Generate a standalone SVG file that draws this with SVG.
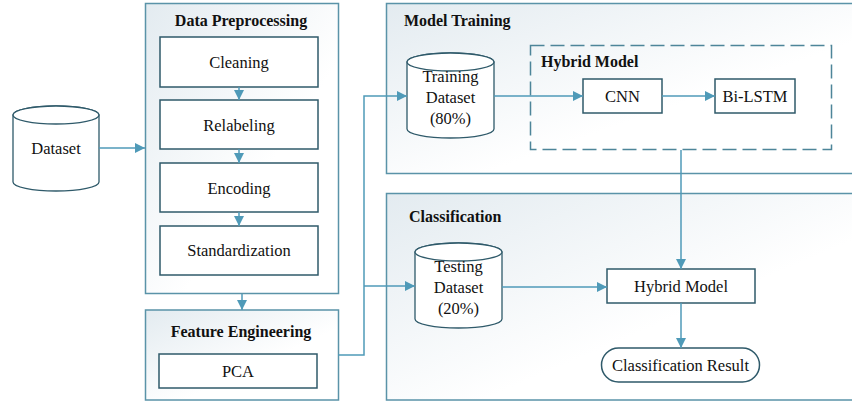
<svg xmlns="http://www.w3.org/2000/svg" width="852" height="403" viewBox="0 0 852 403" font-family="Liberation Serif, DejaVu Serif, Times New Roman, serif">
<defs>
<linearGradient id="grp" x1="0" y1="0" x2="1" y2="1">
<stop offset="0" stop-color="#e3ebf0"/>
<stop offset="0.6" stop-color="#ffffff"/>
<stop offset="1" stop-color="#ffffff"/>
</linearGradient>
<marker id="ah" viewBox="0 0 10 10" refX="10" refY="5" markerWidth="10" markerHeight="10" markerUnits="userSpaceOnUse" orient="auto">
<path d="M0,0 L10,5 L0,10 Z" fill="#4f9ab8"/>
</marker>
<style>
.grp{fill:url(#grp);stroke:#5a93a8;stroke-width:1.5}
.box{fill:#fff;stroke:#2f5a6a;stroke-width:1.5}
.cyl{fill:#fff;stroke:#2f5a6a;stroke-width:1.3}
.dash{fill:none;stroke:#4d8599;stroke-width:1.5;stroke-dasharray:14 6}
.t{font-size:16.5px;fill:#111;text-anchor:middle}
.b{font-size:16px;font-weight:bold;fill:#111}
.c{fill:none;stroke:#4f9ab8;stroke-width:1.5}
</style>
</defs>

<g id="dataset">
<path class="cyl" d="M13,115 L13,182 A43,9 0 0 0 99,182 L99,115 A43,9 0 0 0 13,115 Z"/>
<ellipse class="cyl" cx="56" cy="115" rx="43" ry="9"/>
<text class="t" x="56" y="154" font-family="Liberation Serif">Dataset</text>
</g>

<g id="data-preprocessing">
<rect class="grp" x="145.5" y="3.5" width="193" height="290"/>
<text class="b" x="241" y="26" text-anchor="middle" font-family="Liberation Serif">Data Preprocessing</text>
</g>
<g id="cleaning"><rect class="box" x="160" y="37" width="158" height="50"/><text class="t" x="239" y="68" font-family="Liberation Serif">Cleaning</text></g>
<g id="relabeling"><rect class="box" x="160" y="100" width="158" height="49"/><text class="t" x="239" y="131" font-family="Liberation Serif">Relabeling</text></g>
<g id="encoding"><rect class="box" x="160" y="163" width="158" height="49"/><text class="t" x="239" y="194" font-family="Liberation Serif">Encoding</text></g>
<g id="standardization"><rect class="box" x="160" y="226" width="158" height="49"/><text class="t" x="239" y="256" font-family="Liberation Serif">Standardization</text></g>

<g id="feature-engineering">
<rect class="grp" x="145.5" y="310" width="193" height="90"/>
<text class="b" x="241" y="337" text-anchor="middle" font-family="Liberation Serif">Feature Engineering</text>
</g>
<g id="pca"><rect class="box" x="159" y="354" width="158" height="34"/><text class="t" x="238" y="377" font-family="Liberation Serif">PCA</text></g>

<g id="model-training">
<rect class="grp" x="386.5" y="3.5" width="480" height="170"/>
<text class="b" x="404" y="26" font-family="Liberation Serif">Model Training</text>
</g>
<g id="training-dataset">
<path class="cyl" d="M407,62 L407,129 A43.5,9 0 0 0 494,129 L494,62 A43.5,9 0 0 0 407,62 Z"/>
<ellipse class="cyl" cx="450.5" cy="62" rx="43.5" ry="9"/>
<text class="t" x="450.5" y="82" font-family="Liberation Serif">Training</text>
<text class="t" x="450.5" y="103" font-family="Liberation Serif">Dataset</text>
<text class="t" x="450.5" y="124" font-family="Liberation Serif">(80%)</text>
</g>
<g id="hybrid-model-group">
<rect class="dash" x="530.5" y="45.5" width="301" height="104"/>
<text class="b" x="541" y="67" font-family="Liberation Serif">Hybrid Model</text>
</g>
<g id="cnn"><rect class="box" x="583" y="79" width="79" height="34"/><text class="t" x="622.5" y="102" font-family="Liberation Serif">CNN</text></g>
<g id="bilstm"><rect class="box" x="715" y="79" width="80" height="34"/><text class="t" x="755" y="102" font-family="Liberation Serif">Bi-LSTM</text></g>

<g id="classification">
<rect class="grp" x="386.5" y="193.5" width="480" height="206.5"/>
<text class="b" x="409" y="222" font-family="Liberation Serif">Classification</text>
</g>
<g id="testing-dataset">
<path class="cyl" d="M415,252 L415,319 A43.5,9 0 0 0 502,319 L502,252 A43.5,9 0 0 0 415,252 Z"/>
<ellipse class="cyl" cx="458.5" cy="252" rx="43.5" ry="9"/>
<text class="t" x="458.5" y="272" font-family="Liberation Serif">Testing</text>
<text class="t" x="458.5" y="293" font-family="Liberation Serif">Dataset</text>
<text class="t" x="458.5" y="314" font-family="Liberation Serif">(20%)</text>
</g>
<g id="hybrid-model"><rect class="box" x="607" y="269" width="148" height="34"/><text class="t" x="681" y="292" font-family="Liberation Serif">Hybrid Model</text></g>
<g id="classification-result"><rect class="box" x="601.5" y="348" width="158" height="34" rx="17" ry="17"/><text class="t" x="680.5" y="371" font-family="Liberation Serif">Classification Result</text></g>

<g id="connectors">
<path class="c" d="M99,148 H145" marker-end="url(#ah)"/>
<path class="c" d="M239,87 V100" marker-end="url(#ah)"/>
<path class="c" d="M239,149 V163" marker-end="url(#ah)"/>
<path class="c" d="M239,212 V226" marker-end="url(#ah)"/>
<path class="c" d="M242,294 V310" marker-end="url(#ah)"/>
<path class="c" d="M338,355 H364 V96 H407" marker-end="url(#ah)"/>
<path class="c" d="M364,286 H415" marker-end="url(#ah)"/>
<path class="c" d="M494,96 H583" marker-end="url(#ah)"/>
<path class="c" d="M662,96 H715" marker-end="url(#ah)"/>
<path class="c" d="M681,150 V269" marker-end="url(#ah)"/>
<path class="c" d="M502,287 H607" marker-end="url(#ah)"/>
<path class="c" d="M681,303 V348" marker-end="url(#ah)"/>
</g>
</svg>
